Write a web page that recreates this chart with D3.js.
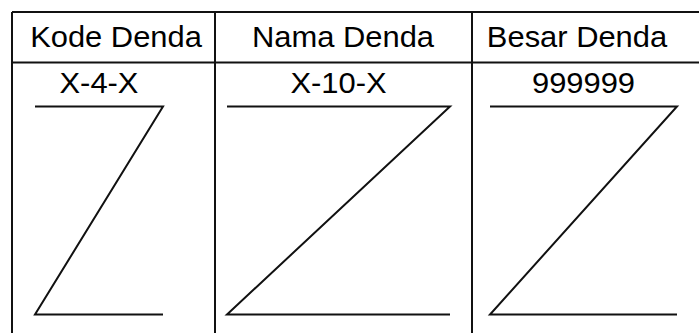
<!DOCTYPE html>
<html>
<head>
<meta charset="utf-8">
<script src="https://cdn.jsdelivr.net/npm/d3@7"></script>
<style>
    body { margin: 0; background: #fff; }
    svg { display: block; }
</style>
</head>
<body>
<div class="chart-container"></div>
<script>
// table content
const headers = ["Kode Denda", "Nama Denda", "Besar Denda"];
const formats = ["X-4-X", "X-10-X", "999999"];

const width = 699;
const height = 333;

// column layout (pixels)
const colEdges = [12, 215, 472, 720];
const headerCenters = [116, 343, 577];
const zLeft = [35, 227, 490];
const zRight = [163, 450, 677];

const tableTop = 12;
const headerBottom = 62.5;
const zTop = 106.5;
const zBottom = 314.5;

const svg = d3.select('.chart-container').append("svg")
    .attr("width", width)
    .attr("height", height);

const stroke = "#111";

// outer top line and header divider
svg.append("line")
    .attr("x1", colEdges[0]).attr("x2", colEdges[3])
    .attr("y1", tableTop).attr("y2", tableTop)
    .attr("stroke", stroke).attr("stroke-width", 2);

svg.append("line")
    .attr("x1", colEdges[0]).attr("x2", colEdges[3])
    .attr("y1", headerBottom).attr("y2", headerBottom)
    .attr("stroke", stroke).attr("stroke-width", 2);

// vertical borders
svg.selectAll(".vline")
    .data(colEdges.slice(0, 3))
    .enter()
    .append("line")
    .attr("class", "vline")
    .attr("x1", d => d).attr("x2", d => d)
    .attr("y1", tableTop).attr("y2", height + 5)
    .attr("stroke", stroke).attr("stroke-width", 2);

// header text
svg.selectAll(".head")
    .data(headers)
    .enter()
    .append("text")
    .attr("class", "head")
    .attr("transform", (d, i) => `translate(${headerCenters[i]},46.5) scale(1.03,1)`)
    .attr("text-anchor", "middle")
    .style("font-family", "Arial, 'Liberation Sans', sans-serif")
    .style("font-size", "30px")
    .attr("fill", "#000")
    .text(d => d);

// format text above each Z
svg.selectAll(".fmt")
    .data(formats)
    .enter()
    .append("text")
    .attr("class", "fmt")
    .attr("transform", (d, i) => `translate(${(zLeft[i] + zRight[i]) / 2},93.3) scale(1.03,1)`)
    .attr("text-anchor", "middle")
    .style("font-family", "Arial, 'Liberation Sans', sans-serif")
    .style("font-size", "30px")
    .attr("fill", "#000")
    .text(d => d);

// Z marks
const line = d3.line();
svg.selectAll(".zmark")
    .data(formats)
    .enter()
    .append("path")
    .attr("class", "zmark")
    .attr("d", (d, i) => line([
        [zLeft[i], zTop],
        [zRight[i], zTop],
        [zLeft[i], zBottom],
        [zRight[i], zBottom]
    ]))
    .attr("fill", "none")
    .attr("stroke", stroke)
    .attr("stroke-width", 2)
    .attr("stroke-linejoin", "miter");
</script>
</body>
</html>
